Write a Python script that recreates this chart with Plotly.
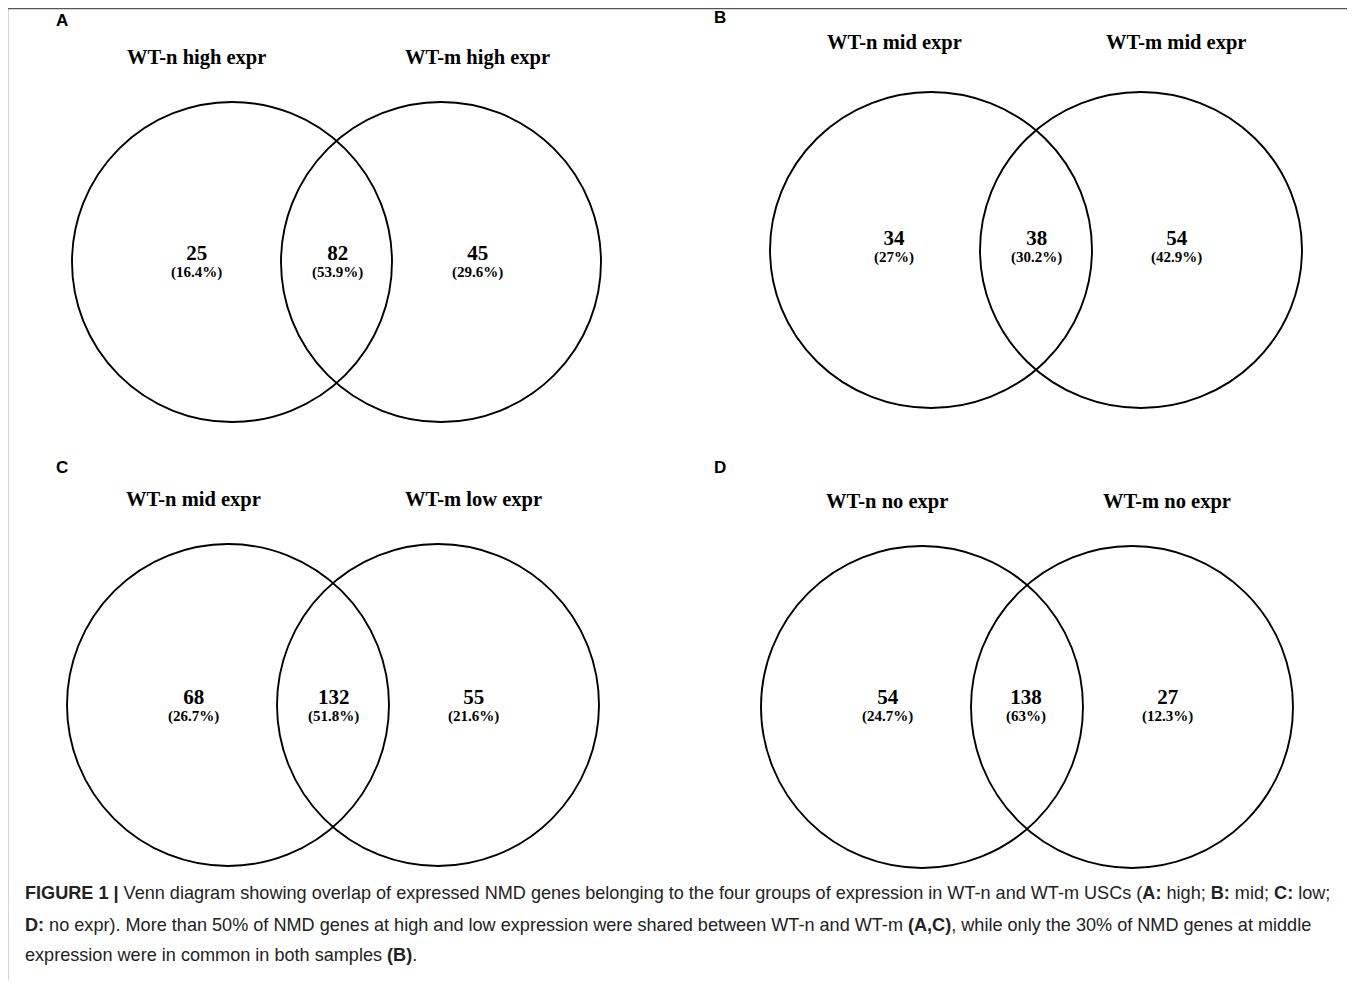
import plotly.graph_objects as go

# ---------------- data ----------------
panel_letters = ["A", "B", "C", "D"]
left_titles = ["WT-n high expr", "WT-n mid expr", "WT-n mid expr", "WT-n no expr"]
right_titles = ["WT-m high expr", "WT-m mid expr", "WT-m low expr", "WT-m no expr"]
only_left = [25, 34, 68, 54]
shared = [82, 38, 132, 138]
only_right = [45, 54, 55, 27]
pct_left = ["16.4%", "27%", "26.7%", "24.7%"]
pct_shared = ["53.9%", "30.2%", "51.8%", "63%"]
pct_right = ["29.6%", "42.9%", "21.6%", "12.3%"]

caption_lines = [
    "<b>FIGURE 1 |</b> Venn diagram showing overlap of expressed NMD genes belonging to the four groups of expression in WT-n and WT-m USCs (<b>A:</b> high; <b>B:</b> mid; <b>C:</b> low;",
    "<b>D:</b> no expr). More than 50% of NMD genes at high and low expression were shared between WT-n and WT-m <b>(A,C)</b>, while only the 30% of NMD genes at middle",
    "expression were in common in both samples <b>(B)</b>.",
]

# ---------------- layout geometry (page pixels) ----------------
OFF = 8                      # browser body margin
W, H = 1355 - 2 * OFF, 988 - 2 * OFF

geom = [
    dict(cl=232, cr=441, cy=262, rx=160, ry=160, letter=(62, 20), title_y=57,
         lab=(196, 337, 477), lab_y=253),
    dict(cl=931, cr=1141, cy=250, rx=161, ry=158, letter=(720, 17), title_y=42,
         lab=(894, 1036, 1176), lab_y=238),
    dict(cl=228, cr=438, cy=705, rx=161, ry=161, letter=(62, 467), title_y=499,
         lab=(193, 333, 473), lab_y=697),
    dict(cl=922, cr=1132, cy=707, rx=161, ry=161, letter=(720, 467), title_y=501,
         lab=(887, 1026, 1167), lab_y=697),
]

fig = go.Figure()
fig.add_trace(go.Scatter(x=[], y=[], showlegend=False))

shapes = []
annotations = []
serif = "Liberation Serif, Times New Roman, serif"
sans = "Liberation Sans, Arial, sans-serif"

for i, g in enumerate(geom):
    for cx in (g["cl"], g["cr"]):
        shapes.append(dict(type="circle", xref="x", yref="y",
                           x0=cx - g["rx"], x1=cx + g["rx"],
                           y0=g["cy"] - g["ry"], y1=g["cy"] + g["ry"],
                           line=dict(color="black", width=1.9)))
    lx, ly = g["letter"]
    annotations.append(dict(x=lx, y=ly, xref="x", yref="y", text="<b>%s</b>" % panel_letters[i],
                            showarrow=False, font=dict(family=sans, size=17, color="black")))
    annotations.append(dict(x=g["lab"][0], y=g["title_y"], xref="x", yref="y",
                            text="<b>%s</b>" % left_titles[i], showarrow=False,
                            font=dict(family=serif, size=20.5, color="black")))
    annotations.append(dict(x=g["lab"][2], y=g["title_y"], xref="x", yref="y",
                            text="<b>%s</b>" % right_titles[i], showarrow=False,
                            font=dict(family=serif, size=20.5, color="black")))
    for x, n, p in zip(g["lab"], (only_left[i], shared[i], only_right[i]),
                       (pct_left[i], pct_shared[i], pct_right[i])):
        txt = ("<span style='font-size:21px'><b>%d</b></span><br>"
               "<span style='font-size:15px'><b>(%s)</b></span>") % (n, p)
        annotations.append(dict(x=x, y=g["lab_y"] + 8, xref="x", yref="y", text=txt,
                                showarrow=False, borderpad=0,
                                font=dict(family=serif, size=13, color="black")))

cap_y = [893, 925, 955]
for t, y in zip(caption_lines, cap_y):
    annotations.append(dict(x=23, y=y, xref="x", yref="y", text=t, xanchor="left",
                            showarrow=False, font=dict(family=sans, size=18.1, color="#222")))

# outer frame (right / bottom edges fall outside the page)
def px(X):
    return (X - OFF) / W
def py(Y):
    return 1 - (Y - OFF) / H

shapes.append(dict(type="rect", xref="paper", yref="paper",
                   x0=px(7.5), x1=px(1400), y0=py(8.5), y1=py(1100),
                   line=dict(color="#555", width=1.5), layer="above"))

fig.update_layout(
    width=W, height=H,
    margin=dict(l=0, r=0, t=0, b=0, pad=0),
    paper_bgcolor="white", plot_bgcolor="white",
    xaxis=dict(range=[OFF, OFF + W], visible=False, fixedrange=True),
    yaxis=dict(range=[OFF + H, OFF], visible=False, fixedrange=True),
    shapes=shapes, annotations=annotations, showlegend=False,
)

fig.write_html("out.html", config={"displayModeBar": False})
